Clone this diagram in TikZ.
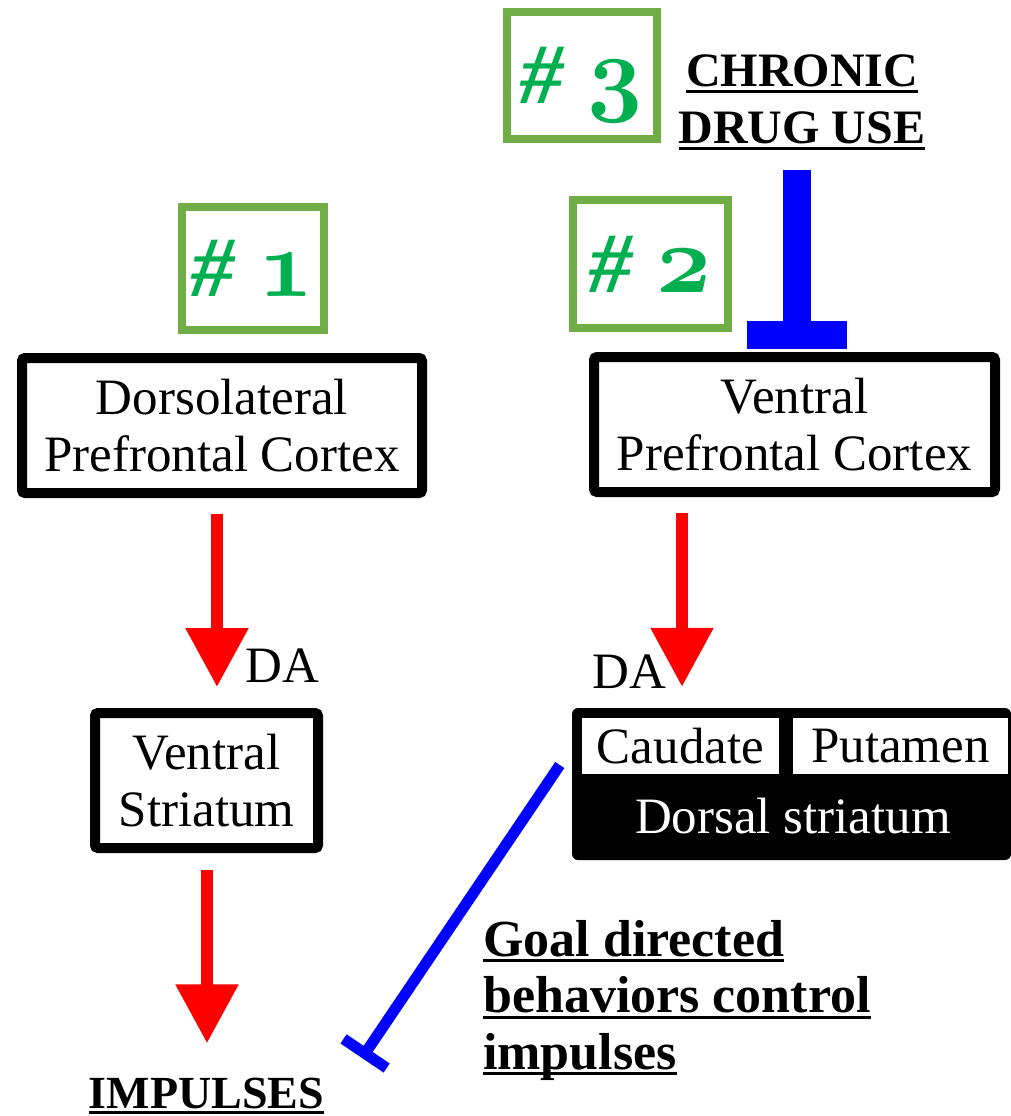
\documentclass[tikz,border=0pt]{standalone}
\usepackage{fontspec}
\setmainfont{Liberation Serif}
\usetikzlibrary{arrows.meta,calc}
\definecolor{gbox}{HTML}{70AD47}
\definecolor{gtxt}{HTML}{00B050}
\definecolor{inhblue}{HTML}{0000FF}
\definecolor{excred}{HTML}{FF0000}
% bold old-style digits for the numbered tags
\font\osfdigits=cmmib10 at 96pt
% heavy underline that does not change the line's box
\newcommand\ulined[1]{\setbox0=\hbox{#1}\rlap{\smash{\rule[-6pt]{\wd0}{3pt}}}\box0}
\newcommand\tagtext[1]{{\bfseries\itshape\fontsize{86}{86}\selectfont\#}\hspace{24pt}{\osfdigits #1}}
\begin{document}
\begin{tikzpicture}[x=1pt,y=-1pt,
  every node/.style={inner sep=0pt},
  regular/.style={font=\fontsize{51}{57}\selectfont},
  region/.style={draw, line width=10pt, rounded corners=3pt, align=center, regular},
  tag/.style={draw=gbox, line width=8pt, text=gtxt, text depth=0pt},
  heading/.style={font=\bfseries\fontsize{48}{57}\selectfont, align=center},
  excite/.style={draw=excred, line width=12pt, -{Triangle[width=60pt,length=59pt]}},
  inhibit/.style={draw=inhblue, line width=11pt, -{Bar[width=52pt]}},
]
\fill[white] (0,0) rectangle (1011,1116);
\useasboundingbox (0,0) rectangle (1011,1116);

% tags
\node[tag, minimum width=142pt, minimum height=123pt] (g1) at (253,268.5) {\tagtext{1}};
\node[tag, minimum width=155pt, minimum height=128pt] (g2) at (650.5,264) {\tagtext{2}};
\node[tag, minimum width=150pt, minimum height=127pt] (g3) at (582,75.5) {\tagtext{3}};

\node[heading] (drug) at (802,99.5) {\ulined{CHRONIC}\\\ulined{DRUG USE}};

% brain regions
\node[region, minimum width=400pt, minimum height=135pt] (dlpfc) at (222,425.5) {Dorsolateral\\Prefrontal Cortex};
\node[region, minimum width=401pt, minimum height=135pt] (vpfc) at (794.5,424.5) {Ventral\\Prefrontal Cortex};
\node[region, minimum width=223pt, minimum height=135pt] (vs) at (206.5,780.5) {Ventral\\Striatum};

\node[fill=black, rounded corners=6pt, minimum width=439pt, minimum height=152pt] (ds) at (791.5,784) {};
\node[fill=white, regular, text depth=0pt, minimum width=197pt, minimum height=56pt] (caud) at (680.5,746) {Caudate};
\node[fill=white, regular, text depth=0pt, minimum width=215pt, minimum height=56pt] (put) at (900.5,746) {Putamen};
\node[regular, text=white, anchor=base] (dstext) at (793,833) {Dorsal striatum};

\node[regular, anchor=base] (da1) at (282.5,682) {DA};
\node[regular, anchor=base] (da2) at (629.5,688) {DA};

\node[font=\bfseries\fontsize{46}{50}\selectfont, anchor=base] (imp) at (206.5,1108) {\ulined{IMPULSES}};
\node[font=\bfseries\fontsize{52}{56.5}\selectfont, align=left, anchor=west] (goal) at (483,1000)
  {\ulined{Goal directed}\\\ulined{behaviors control}\\\ulined{impulses}};

% connectors
\coordinate (a1) at (217,0);
\coordinate (a2) at (207,0);
\coordinate (a3) at (682,0);
\coordinate (tx) at (797,0);
\coordinate (inhend) at (362,1058);

\draw[excite] ($(dlpfc.south -| a1)+(0,16)$) -- ($(vs.north -| a1)+(0,-21)$);
\draw[excite] ($(vs.south -| a2)+(0,17)$) -- ($(imp.north -| a2)+(0,-34)$);
\draw[excite] ($(vpfc.south -| a3)+(0,16)$) -- ($(ds.north -| a3)+(0,-21)$);
\draw[inhibit] ($(ds.west)+(-12,-19)$) -- (inhend);
\draw[draw=inhblue, line width=28pt, -{Bar[width=100pt]}] ($(drug.south -| tx)+(0,26)$) -- ($(vpfc.north -| tx)+(0,-3)$);
\end{tikzpicture}
\end{document}
